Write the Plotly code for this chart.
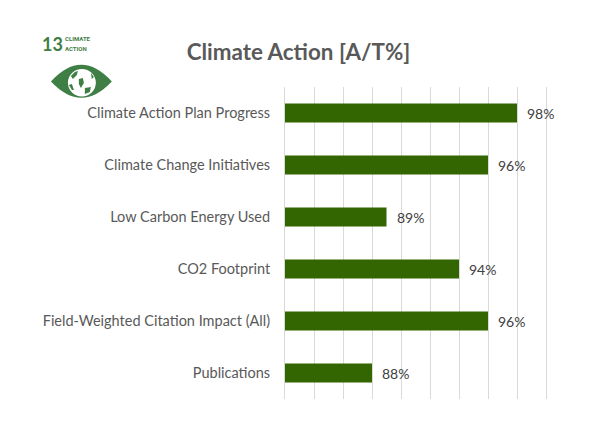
import plotly.graph_objects as go

categories = ['Climate Action Plan Progress', 'Climate Change Initiatives', 'Low Carbon Energy Used',
              'CO2 Footprint', 'Field-Weighted Citation Impact (All)', 'Publications']
values = [98, 96, 89, 94, 96, 88]
axis_ticks = [82, 84, 86, 88, 90, 92, 94, 96, 98, 100]

# page has an 8px body margin, so the figure starts at (8, 8)
OFF = 8
W, H = 602 - OFF, 435 - OFF
LEFT, RIGHT, TOP, BOTTOM = 284.5 - OFF, 56, 87 - OFF, 36
GREEN = '#3F7E44'

def px(x):
    # page pixels to paper coords (paper is the plot area)
    return (x - OFF - LEFT) / (W - LEFT - RIGHT)

def py(y):
    return 1 - (y - OFF - TOP) / (H - TOP - BOTTOM)

def path(points):
    out = []
    for cmd, coords in points:
        out.append(cmd + ' '.join(f'{px(x):.5f},{py(y):.5f}' for x, y in coords))
    return ' '.join(out) + ' Z'

def blob(points):
    return path([('M', [points[0]])] + [('L', [p]) for p in points[1:]])

fig = go.Figure()

fig.add_trace(go.Bar(
    x=values,
    y=categories,
    orientation='h',
    width=0.365,
    marker=dict(color='#336600', line=dict(width=0)),
    hoverinfo='skip'
))

for cat, val in zip(categories, values):
    fig.add_annotation(x=val, y=cat, text=f'{val}%', xref='x', yref='y', xanchor='left',
                       xshift=8, showarrow=False,
                       font=dict(family='Lato', size=14, color='#404040'))

# SDG 13 logo
eye = path([('M', [(50, 81.5)]), ('Q', [(80.5, 48), (111, 81.5)]), ('Q', [(80.5, 114), (50, 81.5)])])
# white globe with green sea patches
globe_sea = [
    [(70, 76), (74, 72), (77, 71), (76, 75), (72, 79)],
    [(78, 79), (82, 78), (83, 83), (80, 88), (78, 84)],
    [(68, 85), (71, 84), (73, 90), (71, 90)],
    [(84, 88), (90, 87), (89, 92), (84, 94)],
    [(90, 73), (93, 77), (91, 79)],
]
shapes = [
    dict(type='path', path=eye, xref='paper', yref='paper', fillcolor=GREEN, line=dict(width=0), layer='above'),
    dict(type='circle', xref='paper', yref='paper', x0=px(67), x1=px(95), y0=py(69), y1=py(96.5),
         fillcolor='white', line=dict(width=0), layer='above'),
]
for sea in globe_sea:
    shapes.append(dict(type='path', path=blob(sea), xref='paper', yref='paper',
                       fillcolor=GREEN, line=dict(width=0), layer='above'))

logo_text = [
    ('13', 41, 44, 18, 'Lato'),
    ('CLIMATE', 64, 38.5, 6, 'Roboto'),
    ('ACTION', 64, 48.5, 6, 'Roboto'),
]
for txt, x, y, size, family in logo_text:
    fig.add_annotation(x=px(x), y=py(y), text=f'<b>{txt}</b>', xref='paper', yref='paper',
                       xanchor='left', yanchor='middle', showarrow=False,
                       borderpad=0, borderwidth=0,
                       font=dict(family=family, size=size, color=GREEN))

fig.update_layout(
    width=W,
    height=H,
    margin=dict(l=LEFT, r=RIGHT, t=TOP, b=BOTTOM, autoexpand=False, pad=0),
    paper_bgcolor='white',
    plot_bgcolor='white',
    showlegend=False,
    shapes=shapes,
    title=dict(text='<b>Climate Action [A/T%]</b>', x=(298.5 - OFF) / W, xanchor='center',
               y=1 - (52 - OFF) / H, yanchor='middle',
               font=dict(family='Lato', size=22.4, color='#595959'))
)

fig.update_xaxes(range=[axis_ticks[0], axis_ticks[-1]], tickvals=axis_ticks, showticklabels=False,
                 showgrid=True, gridcolor='#D9D9D9', gridwidth=1, zeroline=False, showline=False, ticks='')
# mirror draws the edge gridline at 100 that plotly skips
fig.update_yaxes(autorange='reversed', showgrid=False, zeroline=False, showline=True, mirror=True,
                 linecolor='#D9D9D9', linewidth=1, ticks='', ticklabelstandoff=11,
                 tickfont=dict(family='Lato', size=14.5, color='#595959'))

fig.write_html('out.html')
